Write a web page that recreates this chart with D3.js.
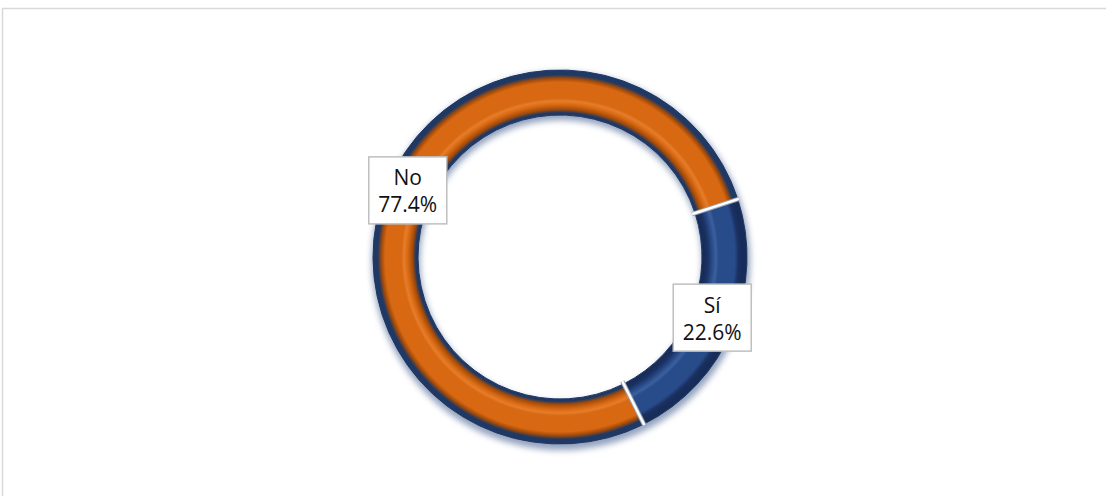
<!DOCTYPE html>
<html>
<head>
<meta charset="utf-8">
<script src="https://cdn.jsdelivr.net/npm/d3@7"></script>
<style>
  html, body { margin: 0; padding: 0; background: #ffffff; }
  svg { display: block; }
</style>
</head>
<body>
<svg id="chart" width="1106" height="496"></svg>
<script>
// Survey answers and their shares (percent)
const categories = ["Sí", "No"];
const values = [22.6, 77.4];
const valueLabels = ["22.6%", "77.4%"];

const W = 1106, H = 496;
const cx = 560, cy = 257;
const rOuter = 187, rInner = 142;
const startDeg = 72;

const svg = d3.select("#chart");

// chart frame
svg.append("rect")
  .attr("x", 2.5).attr("y", 8.5)
  .attr("width", W + 10).attr("height", H + 10)
  .attr("fill", "#ffffff")
  .attr("stroke", "#d9d9d9").attr("stroke-width", 1.5);

const defs = svg.append("defs");

// soft shadow under the ring
const sh = defs.append("filter").attr("id", "ringShadow")
  .attr("x", "-20%").attr("y", "-20%").attr("width", "140%").attr("height", "140%");
sh.append("feGaussianBlur").attr("stdDeviation", 3);

// bevelled band shading, built radially around the ring centre (group origin)
function bandGradient(id, dark, mid, light, edge) {
  const g = defs.append("radialGradient").attr("id", id)
    .attr("gradientUnits", "userSpaceOnUse")
    .attr("cx", 0).attr("cy", 0).attr("r", rOuter);
  const f = rInner / rOuter;
  const stops = [
    [0, edge], [f, edge], [f + 0.012, edge], [f + 0.03, dark], [f + 0.055, mid],
    [f + 0.075, light], [f + 0.09, mid], [0.9, mid], [0.935, mid], [0.955, dark],
    [0.975, edge], [1, edge]
  ];
  stops.forEach(([o, c]) => g.append("stop").attr("offset", o).attr("stop-color", c));
}
bandGradient("gradSi", "#1a3162", "#284b8a", "#3c5f9e", "#172c58");
bandGradient("gradNo", "#a24b0a", "#d86812", "#e67d2a", "#1f3864");

const colors = { "Sí": "url(#gradSi)", "No": "url(#gradNo)" };

const data = categories.map((c, i) => ({ cat: c, value: values[i], label: valueLabels[i] }));

const pie = d3.pie().sort(null).value(d => d.value)
  .startAngle(startDeg * Math.PI / 180)
  .endAngle(startDeg * Math.PI / 180 + 2 * Math.PI);
const arcs = pie(data);

const arc = d3.arc().innerRadius(rInner).outerRadius(rOuter);
const g = svg.append("g").attr("transform", `translate(${cx},${cy})`);

// shadow ring
g.append("path")
  .attr("d", d3.arc().innerRadius(rInner - 1).outerRadius(rOuter + 2)
    .startAngle(0).endAngle(2 * Math.PI)())
  .attr("transform", "translate(1,4)")
  .attr("fill", "#3b5688").attr("opacity", 0.55)
  .attr("filter", "url(#ringShadow)");

// slices
g.selectAll("path.slice").data(arcs).join("path")
  .attr("class", "slice")
  .attr("d", arc)
  .attr("fill", d => colors[d.data.cat])
  .attr("stroke", "#1f3864").attr("stroke-width", 1);

// light separators between the slices
const bounds = arcs.map(a => a.startAngle);
bounds.forEach(a => {
  const p = r => [r * Math.sin(a), -r * Math.cos(a)];
  const [x1, y1] = p(rInner - 3), [x2, y2] = p(rOuter + 1);
  g.append("line").attr("x1", x1).attr("y1", y1).attr("x2", x2).attr("y2", y2)
    .attr("stroke", "#9aa3b0").attr("stroke-width", 4.5);
  g.append("line").attr("x1", x1).attr("y1", y1).attr("x2", x2).attr("y2", y2)
    .attr("stroke", "#ffffff").attr("stroke-width", 2.5);
});

// data labels
const labelArc = d3.arc().innerRadius(165).outerRadius(165);
const boxW = 78, boxH = 67;
const lab = g.selectAll("g.lab").data(arcs).join("g")
  .attr("class", "lab")
  .attr("transform", d => {
    const [x, y] = labelArc.centroid(d);
    return `translate(${x},${y - 3})`;
  });
lab.append("rect")
  .attr("x", -boxW / 2).attr("y", -boxH / 2)
  .attr("width", boxW).attr("height", boxH)
  .attr("fill", "#ffffff")
  .attr("stroke", "#bfbfbf").attr("stroke-width", 1.5);
const txt = lab.append("text")
  .attr("text-anchor", "middle")
  .attr("font-family", "'Open Sans', 'Liberation Sans', sans-serif")
  .attr("font-size", 21)
  .attr("fill", "#111111");
txt.append("tspan").attr("x", 0).attr("y", -5).text(d => d.data.cat);
txt.append("tspan").attr("x", 0).attr("y", 22).text(d => d.data.label);
</script>
</body>
</html>
